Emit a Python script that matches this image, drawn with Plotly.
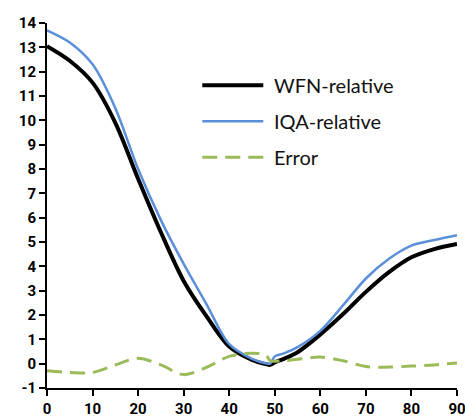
import plotly.graph_objects as go

angle = [0, 5, 10, 15, 20, 25, 30, 35, 40, 45, 48, 49, 50, 52, 55, 60, 65, 70, 75, 80, 85, 90]
wfn = [13.05, 12.45, 11.55, 9.9, 7.6, 5.4, 3.4, 1.95, 0.7, 0.15, -0.02, -0.05, 0.05, 0.2, 0.47, 1.2, 2.04, 2.95, 3.75, 4.37, 4.71, 4.92]
iqa = [13.7, 13.2, 12.3, 10.5, 8.0, 5.9, 4.1, 2.45, 0.8, 0.2, 0.02, 0.0, 0.3, 0.42, 0.68, 1.35, 2.4, 3.5, 4.3, 4.85, 5.08, 5.28]
err = [-0.29, -0.36, -0.36, -0.05, 0.22, -0.05, -0.45, -0.15, 0.3, 0.43, 0.35, 0.12, 0.1, 0.12, 0.18, 0.27, 0.12, -0.12, -0.14, -0.1, -0.05, 0.03]

x_ticks = list(range(0, 91, 10))
y_ticks = list(range(-1, 15))

names = ["WFN-relative", "IQA-relative", "Error"]
colors = ["#000000", "#5B8FD9", "#9BBB59"]
widths = [4, 2.5, 3]
dashes = ["solid", "solid", "15px,8px"]

fig = go.Figure()
for ys, nm, c, w, d in zip([wfn, iqa, err], names, colors, widths, dashes):
    fig.add_trace(go.Scatter(x=angle, y=ys, mode="lines", name=nm,
                             line=dict(color=c, width=w, dash=d, shape="spline", smoothing=0.9),
                             showlegend=False))

# manual legend (long line samples)
l, r, t, b = 46.7, 8.3, 22.7, 29.3
W, H = 465 - l - r, 417 - t - b
def px2paper(px, py):
    return (px - l) / W, (417 - b - py) / H

for i, (nm, c, w, d) in enumerate(zip(names, colors, widths, dashes)):
    py = 85 + 36 * i
    x0, y0 = px2paper(202, py)
    x1, _ = px2paper(263, py)
    fig.add_shape(type="line", xref="paper", yref="paper", x0=x0, x1=x1, y0=y0, y1=y0,
                  line=dict(color=c, width=w, dash=d))
    xt, _ = px2paper(272, py)
    fig.add_annotation(xref="paper", yref="paper", x=xt, y=y0, text=nm, showarrow=False,
                       xanchor="left", yanchor="middle",
                       font=dict(family="Lato", size=20, color="#111111"))

tickfont = dict(family="Roboto", size=15, color="black", weight=800)
fig.update_layout(
    width=465, height=417,
    margin=dict(l=l, r=r, t=t, b=b, autoexpand=False),
    plot_bgcolor="white", paper_bgcolor="white",
    font=dict(family="Roboto", color="black"),
)
fig.update_xaxes(range=[0, 90], tickmode="array", tickvals=x_ticks,
                 ticktext=[f"<b>{v}</b>" for v in x_ticks],
                 showgrid=False, zeroline=False,
                 showline=True, linecolor="black", linewidth=2, automargin=False,
                 ticks="outside", ticklen=6, tickwidth=2, tickcolor="black",
                 ticklabeloverflow="allow", tickfont=tickfont)
fig.update_yaxes(range=[-1, 14], tickmode="array", tickvals=y_ticks,
                 ticktext=[f"<b>{v}</b>" for v in y_ticks],
                 showgrid=False, zeroline=False,
                 showline=True, linecolor="black", linewidth=2, automargin=False,
                 ticks="outside", ticklen=6, tickwidth=2, tickcolor="black",
                 ticklabeloverflow="allow", tickfont=tickfont)

fig.write_html("out.html")
